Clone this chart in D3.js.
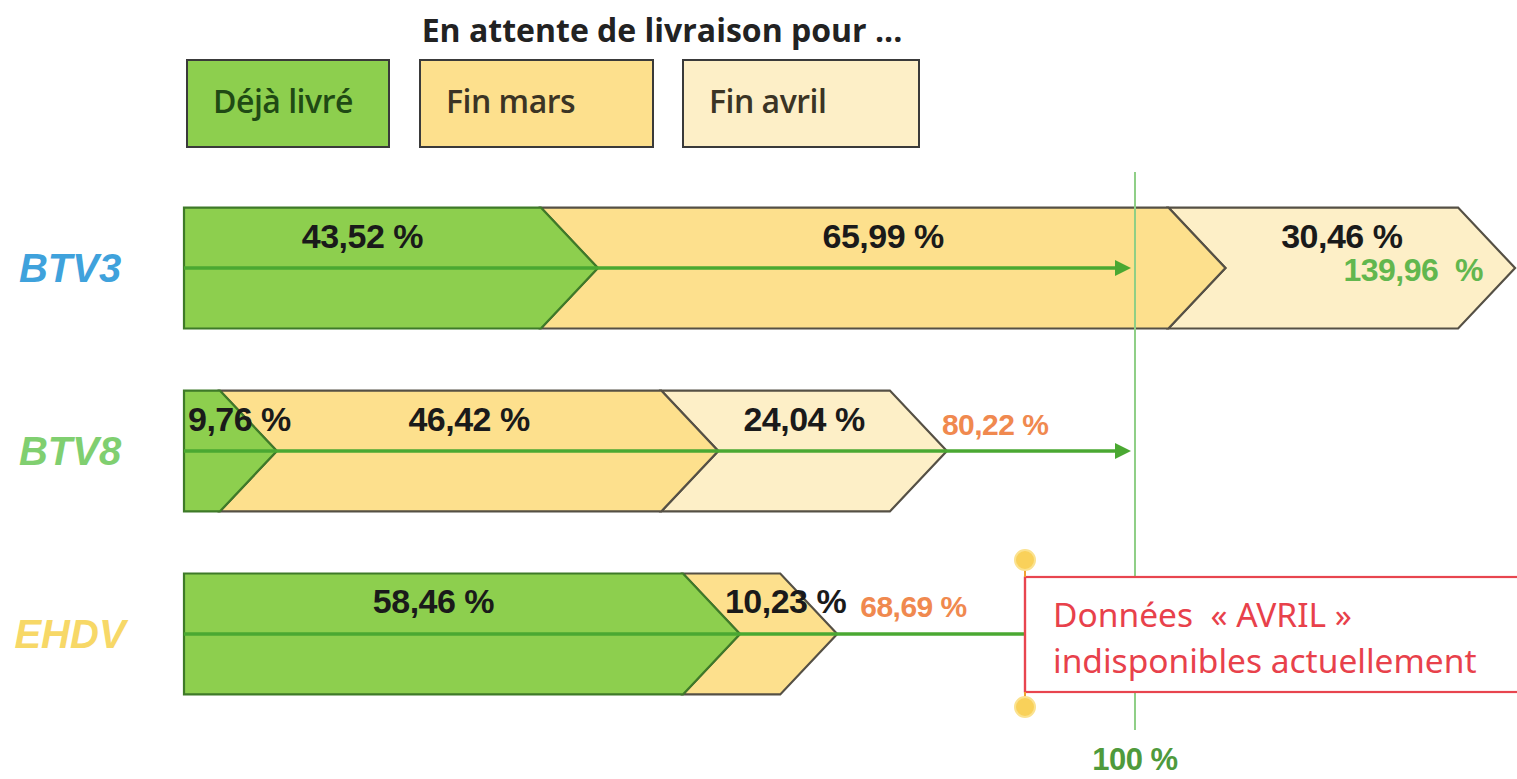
<!DOCTYPE html>
<html>
<head>
<meta charset="utf-8">
<script src="https://cdn.jsdelivr.net/npm/d3@7"></script>
<style>
  html, body { margin: 0; padding: 0; background: #ffffff; }
  svg { display: block; }
</style>
</head>
<body>
<svg id="chart" width="1517" height="779"></svg>
<script>
// ---------------- DATA ----------------
const categories = ["BTV3", "BTV8", "EHDV"];
const seriesNames = ["Déjà livré", "Fin mars", "Fin avril"];
const dejaLivre = [43.52, 9.76, 58.46];
const finMars   = [65.99, 46.42, 10.23];
const finAvril  = [30.46, 24.04, null];   // EHDV : données avril indisponibles
const totals    = [139.96, 80.22, 68.69];
const targetPct = 100;
const titleText = "En attente de livraison pour ...";
const calloutLines = ["Données  « AVRIL »", "indisponibles actuellement"];

// ---------------- STYLE / LAYOUT ----------------
const W = 1517, H = 779;
const segFill   = ["#8dcf4e", "#fde08d", "#fdefc7"];
const segStroke = ["#3e7a28", "#555045", "#555045"];
const catColor  = ["#3fa2dc", "#80cf70", "#f7d867"];
const legendLayout = [{x: 187, w: 202}, {x: 420, w: 233}, {x: 683, w: 236}];
const legendTextColor = ["#1f4a14", "#3b3424", "#3b3424"];
const depth = 57;
const fr = d3.formatLocale({decimal: ",", thousands: " ", grouping: [3], currency: ["", " €"]});
const fmt = v => fr.format(".2f")(v) + " %";

const svg = d3.select("#chart");

const x = d3.scaleLinear()
  .domain([0, d3.max(totals)])
  .range([184, 1515]);

const y = d3.scaleBand()
  .domain(categories)
  .range([176.5, 725.5])
  .paddingInner(0.339)
  .paddingOuter(0.17);

const rows = categories.map((c, i) => {
  const vals = [dejaLivre[i], finMars[i], finAvril[i]];
  let acc = 0;
  const segs = [];
  vals.forEach((v, k) => {
    if (v == null) return;
    segs.push({k, start: acc, end: acc + v, value: v});
    acc += v;
  });
  return {cat: c, i, segs, total: totals[i], hasAvril: finAvril[i] != null};
});

// ---------------- TITLE + LEGEND ----------------
svg.append("text")
  .attr("x", 662).attr("y", 42)
  .attr("text-anchor", "middle")
  .style("font-family", "'Open Sans', sans-serif")
  .style("font-weight", 700)
  .style("font-size", "32px")
  .style("fill", "#222")
  .text(titleText);

const leg = svg.append("g").selectAll("g")
  .data(seriesNames).join("g")
  .attr("transform", (d, k) => `translate(${legendLayout[k].x},60)`);
leg.append("rect")
  .attr("width", (d, k) => legendLayout[k].w)
  .attr("height", 87)
  .attr("fill", (d, k) => segFill[k])
  .attr("stroke", "#3a3a3a")
  .attr("stroke-width", 2);
leg.append("text")
  .attr("x", 26).attr("y", 53)
  .style("font-family", "'Open Sans', sans-serif")
  .style("font-weight", 600)
  .style("font-size", "32px")
  .style("letter-spacing", "-0.5px")
  .style("fill", (d, k) => legendTextColor[k])
  .text(d => d);

// ---------------- BARS ----------------
const barG = svg.append("g");
rows.forEach(r => {
  const top = y(r.cat), bot = top + y.bandwidth(), mid = top + y.bandwidth() / 2;
  const g = barG.append("g");
  g.selectAll("path")
    .data(r.segs.slice().reverse()).join("path")
    .attr("d", s => {
      const xs = x(s.start), xe = x(s.end);
      const pts = [];
      pts.push(s.k === 0 ? [xs, top] : [xs - depth, top]);
      pts.push([xe - depth, top]);
      pts.push([xe, mid]);
      pts.push([xe - depth, bot]);
      pts.push(s.k === 0 ? [xs, bot] : [xs - depth, bot]);
      if (s.k !== 0) pts.push([xs, mid]);
      return d3.line()(pts) + "Z";
    })
    .attr("fill", s => segFill[s.k])
    .attr("stroke", s => segStroke[s.k])
    .attr("stroke-width", 2.2)
    .attr("stroke-linejoin", "miter");
});

// ---------------- MID ARROWS ----------------
const calloutX = 1025;
const arrowG = svg.append("g");
rows.forEach(r => {
  const mid = y(r.cat) + y.bandwidth() / 2;
  if (r.hasAvril) {
    const tip = x(targetPct) - 4;
    arrowG.append("line")
      .attr("x1", x(0)).attr("x2", tip - 14)
      .attr("y1", mid).attr("y2", mid)
      .attr("stroke", "#4aa832").attr("stroke-width", 3.5);
    arrowG.append("path")
      .attr("d", d3.line()([[tip, mid], [tip - 16, mid - 8], [tip - 16, mid + 8]]) + "Z")
      .attr("fill", "#4aa832");
  } else {
    arrowG.append("line")
      .attr("x1", x(0)).attr("x2", calloutX)
      .attr("y1", mid).attr("y2", mid)
      .attr("stroke", "#4aa832").attr("stroke-width", 3.5);
  }
});

// ---------------- 100 % LINE ----------------
svg.append("line")
  .attr("x1", x(targetPct)).attr("x2", x(targetPct))
  .attr("y1", 172).attr("y2", 730)
  .attr("stroke", "#8fcf86").attr("stroke-width", 2);
svg.append("text")
  .attr("x", x(targetPct)).attr("y", 770)
  .attr("text-anchor", "middle")
  .style("font-family", "'Liberation Sans', Arial, sans-serif")
  .style("font-weight", 700)
  .style("font-size", "31px")
  .style("letter-spacing", "-0.5px")
  .style("fill", "#4f9a3c")
  .text(fr.format("d")(targetPct) + " %");

// ---------------- CALLOUT ----------------
const ehdvRow = rows.find(r => !r.hasAvril);
if (ehdvRow) {
  const cg = svg.append("g");
  cg.append("rect")
    .attr("x", calloutX).attr("y", 577)
    .attr("width", 520).attr("height", 115)
    .attr("fill", "#ffffff")
    .attr("stroke", "#e8454f").attr("stroke-width", 2.2);
  cg.append("line")
    .attr("x1", calloutX).attr("x2", calloutX)
    .attr("y1", 562).attr("y2", 706)
    .attr("stroke", "#f0a030").attr("stroke-width", 2);
  cg.append("line")
    .attr("x1", calloutX).attr("x2", calloutX)
    .attr("y1", 577).attr("y2", 692)
    .attr("stroke", "#e8454f").attr("stroke-width", 2.2);
  [560, 707].forEach(cy => {
    cg.append("circle").attr("cx", calloutX).attr("cy", cy).attr("r", 10)
      .attr("fill", "#f9d15a").attr("stroke", "#fbe28f").attr("stroke-width", 2);
  });
  cg.selectAll("text.co").data(calloutLines).join("text")
    .attr("class", "co")
    .attr("x", 1053).attr("y", (d, k) => 627 + k * 46)
    .style("font-family", "'Noto Sans', sans-serif")
    .style("font-size", "33.5px")
    .style("fill", "#e8414b")
    .style("white-space", "pre")
    .text(d => d);
}

// ---------------- LABELS ----------------
const labG = svg.append("g");
rows.forEach(r => {
  const top = y(r.cat), mid = top + y.bandwidth() / 2;
  let lastRight = x(0);
  r.segs.forEach(s => {
    const xs = x(s.start), xe = x(s.end);
    const cx = (xs + xe) / 2 - depth / 2;
    const t = labG.append("text")
      .attr("y", top + 40)
      .style("font-family", "'Liberation Sans', Arial, sans-serif")
      .style("font-weight", 700)
      .style("font-size", "34px")
      .style("letter-spacing", "-0.5px")
      .style("fill", "#1a1a1a")
      .text(fmt(s.value));
    const w = t.node().getComputedTextLength();
    const minLeft = s.k === 0 ? x(0) + 4 : xs - 15;
    const left = Math.max(cx - w / 2, minLeft);
    t.attr("x", left);
    lastRight = left + w;
  });
  // total label
  const over = r.total >= targetPct;
  const tt = labG.append("text")
    .style("font-family", "'Liberation Sans', Arial, sans-serif")
    .style("font-weight", 700)
    .style("font-size", over ? "32px" : "30px")
    .style("letter-spacing", "-0.5px")
    .style("fill", over ? "#62b74e" : "#f0894f")
    .style("white-space", "pre")
    .text(over ? fr.format(".2f")(r.total) + "  %" : fmt(r.total));
  if (over) {
    tt.attr("x", x(r.total) - 32).attr("y", mid + 13).attr("text-anchor", "end");
  } else {
    tt.attr("x", Math.max(x(r.total) - 5, lastRight + 14)).attr("y", top + 44).attr("text-anchor", "start");
  }
});

// ---------------- CATEGORY LABELS ----------------
svg.append("g").selectAll("text")
  .data(categories).join("text")
  .attr("x", 70)
  .attr("y", c => y(c) + y.bandwidth() / 2 + 14)
  .attr("text-anchor", "middle")
  .style("font-family", "'Liberation Sans', Arial, sans-serif")
  .style("font-weight", 700)
  .style("font-style", "italic")
  .style("font-size", "40px")
  .style("fill", (c, i) => catColor[i])
  .text(c => c);
</script>
</body>
</html>
